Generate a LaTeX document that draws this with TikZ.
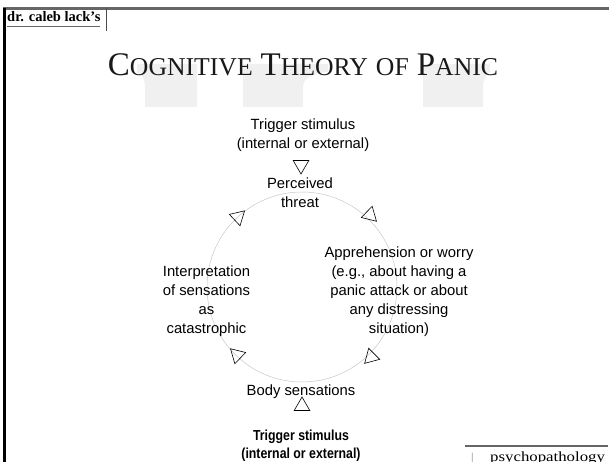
\documentclass[tikz,border=0pt]{standalone}
\usepackage{fontspec}
\usepackage{graphicx}
\newfontfamily\arial{Liberation Sans}
\newfontfamily\hdrfont{Liberation Serif}
\usetikzlibrary{shapes.geometric}
\newcommand\tbig[1]{{\fontsize{33}{33}\selectfont #1}}
\newcommand\tsml[1]{{\fontsize{25.7}{33}\selectfont #1}}
\newcommand\tsp{\hspace{8pt}}
\newcommand\condb[1]{\scalebox{0.85}[1]{\bfseries #1}}
\begin{document}
\begin{tikzpicture}[x=1pt,y=-1pt,
  lbl/.style={align=center,inner sep=0pt,font=\arial\fontsize{14.8}{19}\selectfont},
  tri/.style={draw=black,line width=0.6pt,regular polygon,regular polygon sides=3,minimum size=18pt,inner sep=0pt},
  wm/.style={fill=black!6,draw=none},
  ring/.style={draw=black!22,line width=0.5pt}]
\useasboundingbox (0,0) rectangle (609,462);
% watermark shapes
\fill[wm] (137,64) -- (137,72) .. controls (143,75) and (145,80) .. (145,88) -- (145,107) -- (197,107) -- (197,64) -- cycle;
\fill[wm] (243,64) -- (243,107) -- (303,107) -- (303,88) .. controls (303,80) and (308,74) .. (328,72) -- (328,64) -- cycle;
\fill[wm] (423,64) -- (423,107) -- (483,107) -- (483,88) .. controls (483,80) and (486,75) .. (490,72) -- (490,64) -- cycle;
% frame
\coordinate (tl) at (3,8.5);
\coordinate (tr) at (609,8.5);
\coordinate (bl) at (4.5,462);
\coordinate (lt) at (4.5,8.5);
\draw[black!60,line width=2.2pt] (tl) -- (tr);
\draw[black,line width=2.5pt] (lt) -- (bl);
\coordinate (d1) at (106,8.5);
\coordinate (d2) at (106,31);
\draw[black!70,line width=0.9pt] (d1) -- (d2);
\node[anchor=base west,inner sep=0pt,font=\hdrfont\bfseries\fontsize{14.5}{15}\selectfont] (hdr) at (7,21.5) {dr. caleb lack’s};
\coordinate (u1) at (7,26.7);
\coordinate (u2) at (100,26.7);
\draw[black!60,line width=0.8pt] (u1) -- (u2);
% title
\node[anchor=base,inner sep=0pt,font=\hdrfont,text=black!90] (title) at (303,76) {\tbig{C}\tsml{OGNITIVE}\tsp\tbig{T}\tsml{HEORY}\tsp\tsml{OF}\tsp\tbig{P}\tsml{ANIC}};
% cycle
\coordinate (c) at (302,287);
\draw[ring] (c) circle (95);
\node[lbl] (trigtop) at (303,135.5) {Trigger stimulus\\(internal or external)};
\node[lbl] (threat) at (300,192.5) {Perceived\\threat};
\node[lbl] (appr) at (399,292) {Apprehension or worry\\(e.g., about having a\\panic attack or about\\any distressing\\situation)};
\node[lbl] (interp) at (206.5,301.5) {Interpretation\\of sensations\\as\\catastrophic};
\node[lbl] (body) at (301,392) {Body sensations};
\node[lbl,font=\arial\fontsize{14.5}{18}\selectfont] (trigbot) at (301,445.5) {\condb{Trigger stimulus}\\\condb{(internal or external)}};
\node[tri,rotate=180] (a1) at (301,165) {};
\node[tri,rotate=-47] (a2) at (238,217) {};
\node[tri,rotate=-134] (a3) at (370,215) {};
\node[tri,rotate=135] (a4) at (371,357) {};
\node[tri,rotate=46] (a5) at (237,355) {};
\node[tri] (a6) at (302,406) {};
% footer
\coordinate (f1) at (465,446);
\coordinate (f2) at (608,446);
\draw[black!60,line width=1.4pt] (f1) -- (f2);
\node[anchor=base west,inner sep=0pt,font=\hdrfont\fontsize{12}{13}\selectfont,text=black!50] (bar) at (471,461.5) {|};
\node[anchor=base west,inner sep=0pt,font=\hdrfont\fontsize{14}{14}\selectfont] (foot) at (490,461.5) {\scalebox{1.2}[1]{psychopathology}};
\end{tikzpicture}
\end{document}
